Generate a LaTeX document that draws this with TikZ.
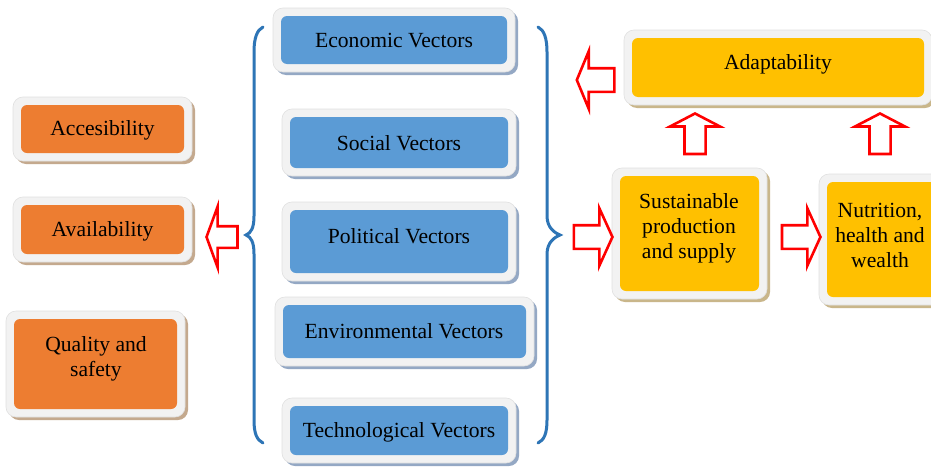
\documentclass[tikz,border=0pt]{standalone}
\usepackage{fontspec}
\setmainfont{Liberation Serif}
\usetikzlibrary{shapes.arrows}
\definecolor{vblue}{HTML}{5B9BD5}
\definecolor{vorange}{HTML}{ED7D31}
\definecolor{vyellow}{HTML}{FFC000}
\definecolor{vbrace}{HTML}{2E75B6}
\definecolor{vframe}{HTML}{F2F2F2}
\definecolor{vframeedge}{HTML}{E0E0E0}
\definecolor{shblue}{HTML}{94A8C4}
\definecolor{shtan}{HTML}{C4A98E}
\definecolor{shyel}{HTML}{C9B68A}
\tikzset{
  inbox/.style={rounded corners=6pt, inner sep=0pt, draw=none},
  lbl/.style={font=\fontsize{21.6pt}{25pt}\selectfont, align=center, inner sep=0pt, text=black},
  harrow/.style={single arrow, draw=red, fill=white, line width=2.6pt, single arrow head indent=0pt},
  bracestyle/.style={draw=vbrace, line width=3pt, line cap=round}
}
% name x1 y1 x2 y2 fill shadow
\newcommand\mkbox[7]{%
  \fill[#7, rounded corners=10pt] ({#2-5},{#3-5}) rectangle ({#4+11},{#5+11});
  \filldraw[fill=vframe, draw=vframeedge, line width=0.6pt, rounded corners=10pt] ({#2-8},{#3-8}) rectangle ({#4+8},{#5+8});
  \node[inbox, fill=#6, minimum width={(#4-#2)*1pt}, minimum height={(#5-#3)*1pt}] (#1) at ({(#2+#4)/2},{(#3+#5)/2}) {};
}
\begin{document}
\begin{tikzpicture}[x=1pt, y=-1pt]
\useasboundingbox (0,0) rectangle (931,466);
\fill[white] (0,0) rectangle (931,466);

% vector boxes
\mkbox{econ}{281}{16}{507}{64}{vblue}{shblue}
\mkbox{soc}{290}{117}{508}{168}{vblue}{shblue}
\mkbox{pol}{290}{210}{508}{273}{vblue}{shblue}
\mkbox{env}{283}{305}{526}{358}{vblue}{shblue}
\mkbox{tech}{290}{406}{508}{455}{vblue}{shblue}
\node[lbl] (econ-t) at (394,41) {Economic Vectors};
\node[lbl] (soc-t) at (399,143) {Social Vectors};
\node[lbl] (pol-t) at (399,236) {Political Vectors};
\node[lbl] (env-t) at (404,331) {Environmental Vectors};
\node[lbl] (tech-t) at (399,432) {Technological Vectors};

% left boxes
\mkbox{acc}{21}{105}{184}{153}{vorange}{shtan}
\mkbox{ava}{21}{205}{184}{254}{vorange}{shtan}
\mkbox{qua}{14}{319}{177}{409}{vorange}{shtan}
\node[lbl] (acc-t) at (102.5,130) {Accesibility};
\node[lbl] (ava-t) at (102.5,231) {Availability};
\node[lbl] (qua-t) at (96,359) {Quality and\\safety};

% right boxes
\mkbox{ada}{632}{38}{924}{97}{vyellow}{shyel}
\mkbox{sus}{620}{176}{759}{291}{vyellow}{shyel}
\mkbox{nut}{827}{182}{940}{297}{vyellow}{shyel}
\node[lbl] (ada-t) at (778,64) {Adaptability};
\node[lbl] (sus-t) at (689,228) {Sustainable\\production\\and supply};
\node[lbl] (nut-t) at (880,235) {Nutrition,\\health and\\wealth};

% braces
\draw[bracestyle] (263,27) .. controls (257,30) and (254,38) .. (254,52) -- (254,216)
  .. controls (254,228) and (251,233) .. (246,235)
  .. controls (251,237) and (254,242) .. (254,254) -- (254,420)
  .. controls (254,434) and (257,440) .. (263,443);
\draw[bracestyle] (538,27) .. controls (544,30) and (547,38) .. (547,52) -- (547,216)
  .. controls (547,228) and (555,233) .. (560,235)
  .. controls (555,237) and (547,242) .. (547,254) -- (547,420)
  .. controls (547,434) and (544,440) .. (538,443);

% hollow block arrows
\node[harrow, shape border rotate=180, inner xsep=0pt, minimum height=31pt, inner ysep=9.5pt, single arrow head extend=19.5pt, single arrow tip angle=140] (a-ava) at (224,237) {};
\node[harrow, shape border rotate=180, inner xsep=0pt, minimum height=37.5pt, inner ysep=10.5pt, single arrow head extend=17pt, single arrow tip angle=135] (a-ada) at (598,80) {};
\node[harrow, shape border rotate=90, inner ysep=0pt, minimum height=40.5pt, inner xsep=9.25pt, single arrow head extend=14.5pt, single arrow tip angle=125] (a-up1) at (695,136.5) {};
\node[harrow, shape border rotate=90, inner ysep=0pt, minimum height=40.5pt, inner xsep=9.25pt, single arrow head extend=14.5pt, single arrow tip angle=125] (a-up2) at (880,136.5) {};
\node[harrow, inner xsep=0pt, minimum height=38.5pt, inner ysep=10.5pt, single arrow head extend=17pt, single arrow tip angle=131] (a-sus) at (590.5,237) {};
\node[harrow, inner xsep=0pt, minimum height=38.5pt, inner ysep=10.5pt, single arrow head extend=17pt, single arrow tip angle=131] (a-nut) at (798.5,237) {};
\end{tikzpicture}
\end{document}
